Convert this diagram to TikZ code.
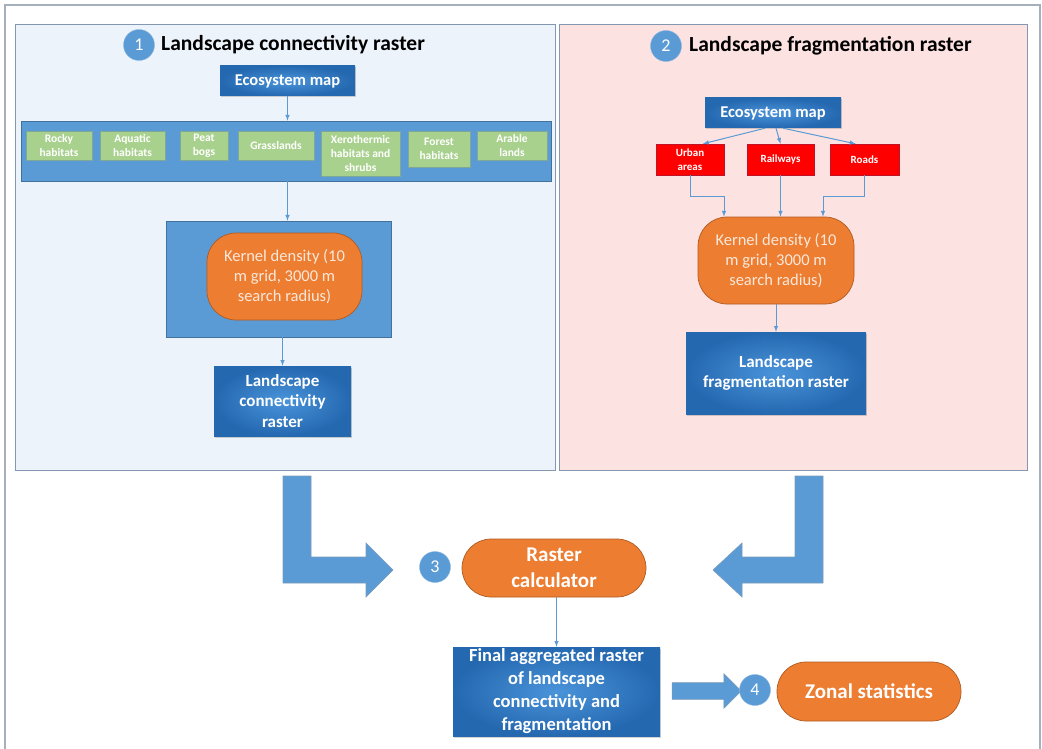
\documentclass[tikz,border=0pt]{standalone}
\usepackage{fontspec}
\setmainfont{Carlito}
\usetikzlibrary{shapes.arrows,shadows}
\definecolor{midblue}{RGB}{91,155,213}
\definecolor{edgeblue}{RGB}{65,113,156}
\definecolor{darkblue}{RGB}{36,104,176}
\definecolor{litblue}{RGB}{74,148,218}
\definecolor{paleblue}{RGB}{237,243,250}
\definecolor{palepink}{RGB}{253,226,226}
\definecolor{panelline}{RGB}{132,151,176}
\definecolor{frameline}{RGB}{165,176,188}
\definecolor{grass}{RGB}{169,209,142}
\definecolor{grassline}{RGB}{128,168,150}
\definecolor{roadred}{RGB}{255,0,0}
\definecolor{redline}{RGB}{190,20,40}
\definecolor{orng}{RGB}{237,125,49}
\definecolor{orngline}{RGB}{174,90,33}
\definecolor{cream}{RGB}{251,232,218}

\begin{document}
\begin{tikzpicture}[x=1pt, y=-1pt]
  \tikzset{panel/.style={draw=panelline, line width=1pt},
    band/.style={draw=edgeblue, fill=midblue, line width=0.6pt, inner sep=0},
    db/.style={inner color=litblue, outer color=darkblue, text=white, align=center, inner sep=0,
      drop shadow={opacity=0.35, shadow xshift=1.2pt, shadow yshift=-1.5pt},
      font=\fontsize{17}{20.5}\selectfont\bfseries},
    g/.style={draw=grassline, fill=grass, text=white, align=center, inner sep=0,
      anchor=north, minimum height=29pt, line width=0.6pt, font=\fontsize{11.5}{14}\selectfont\bfseries},
    r/.style={draw=redline, fill=roadred, text=white, align=center, inner sep=0, minimum height=31pt,
      line width=0.5pt, font=\fontsize{11}{14}\selectfont\bfseries},
    o/.style={draw=orngline, fill=orng, text=white, align=center, inner sep=0, rounded corners=29pt,
      line width=0.7pt, font=\fontsize{21}{26}\selectfont\bfseries},
    num/.style={circle, fill=midblue, draw=midblue!70!white, text=white, minimum size=31pt,
      inner sep=0, font=\fontsize{18}{18}\selectfont},
    ttl/.style={anchor=west, inner sep=0, font=\fontsize{21.5}{24}\selectfont\bfseries},
    f/.style={->, >=latex, draw=midblue, line width=1pt},
    blk/.style={fill=midblue, draw=edgeblue!70, line width=0.6pt}}

  \useasboundingbox (0,0) rectangle (1042,749);
  \draw[frameline, line width=1.5pt] (5,752) -- (5,5) -- (1040,5) -- (1040,752);

  % panels
  \draw[panel, fill=paleblue] (15,25) rectangle (555,470);
  \draw[panel, fill=palepink] (559,25) rectangle (1027,470);

  % 1 landscape connectivity
  \node[num] (n1) at (139,45) {1};
  \node[ttl] (t1) at (161,45) {Landscape connectivity raster};
  \node[db, minimum width=135pt, minimum height=30pt, font=\fontsize{16.5}{20}\selectfont\bfseries]
    (eco1) at (287.5,81) {Ecosystem map};
  \node[band, minimum width=530pt, minimum height=60pt] (band) at (286,151) {};
  \node[g, minimum width=66pt] (rocky) at (59,131) {Rocky\\habitats};
  \node[g, minimum width=65pt] (aquatic) at (132.5,131) {Aquatic\\habitats};
  \node[g, minimum width=48pt] (peat) at (204,131) {Peat\\bogs};
  \node[g, minimum width=76pt] (grass) at (276,131) {Grasslands};
  \node[g, minimum width=79pt, minimum height=45pt] (xero) at (360.5,131) {Xerothermic\\habitats and\\shrubs};
  \node[g, minimum width=62pt, minimum height=36pt] (forest) at (439,131) {Forest\\habitats};
  \node[g, minimum width=70pt] (arable) at (512,131) {Arable\\lands};
  \node[band, minimum width=225pt, minimum height=116pt] (box1) at (278.5,279) {};
  \node[o, minimum width=155pt, minimum height=87pt, text=cream, font=\fontsize{16.5}{20}\selectfont]
    (kern1) at (284.5,276.5) {Kernel density (10\\m grid, 3000 m\\search radius)};
  \node[db, minimum width=137pt, minimum height=70pt] (lcr) at (282.5,401) {Landscape\\connectivity\\raster};

  \draw[f] (eco1.south) -- (eco1.south |- band.north);
  \draw[f] (band.south -| eco1.south) -- (box1.north -| eco1.south);
  \draw[f] (lcr.north |- box1.south) -- (lcr.north);

  % 2 landscape fragmentation
  \node[num] (n2) at (666,46) {2};
  \node[ttl] (t2) at (689,46) {Landscape fragmentation raster};
  \node[db, minimum width=136pt, minimum height=30pt, font=\fontsize{16.5}{20}\selectfont\bfseries]
    (eco2) at (773,113) {Ecosystem map};
  \node[r, minimum width=68pt] (urban) at (690,159.5) {Urban\\areas};
  \node[r, minimum width=67pt] (rail) at (780.5,159.5) {Railways};
  \node[r, minimum width=69pt] (roads) at (864.5,159.5) {Roads};
  \node[o, minimum width=156pt, minimum height=87pt, text=cream, font=\fontsize{16.5}{20}\selectfont]
    (kern2) at (776,260.5) {Kernel density (10\\m grid, 3000 m\\search radius)};
  \node[db, minimum width=180pt, minimum height=82pt] (lfr) at (776,373) {Landscape\\fragmentation raster};

  \draw[f] ([xshift=-8pt]eco2.south) -- ([xshift=13pt]urban.north);
  \draw[f] ([xshift=3pt]eco2.south) -- (rail.north);
  \draw[f] ([xshift=10pt]eco2.south) -- ([xshift=-9pt]roads.north);
  \draw[f] (urban.south) -- ++(0,21) -| ([xshift=-52pt]kern2.north);
  \draw[f] (rail.south) -- (rail.south |- kern2.north);
  \draw[f] (roads.south) -- ++(0,21) -| ([xshift=47pt]kern2.north);
  \draw[f] (kern2.south) -- (lfr.north);

  % 3 raster calculator
  \draw[blk] (283,476) -- (311,476) -- (311,557) -- (366,557) -- (366,543) -- (393,570)
    -- (366,597) -- (366,583) -- (283,583) -- cycle;
  \draw[blk] (795,476) -- (823,476) -- (823,583) -- (742,583) -- (742,597) -- (713,570)
    -- (742,543) -- (742,557) -- (795,557) -- cycle;
  \node[num] (n3) at (435,567) {3};
  \node[o, minimum width=184pt, minimum height=58pt] (calc) at (554,568) {Raster\\calculator};
  \node[db, minimum width=207pt, minimum height=89pt, font=\fontsize{18.5}{23}\selectfont\bfseries]
    (final) at (556.5,691.5) {Final aggregated raster\\of landscape\\connectivity and\\fragmentation};
  \draw[f] (final.north |- calc.south) -- (final.north);

  % 4 zonal statistics
  \node[single arrow, fill=midblue, draw=edgeblue!70, line width=0.6pt, minimum height=69pt,
    minimum width=34pt, single arrow head extend=9pt, inner xsep=0, inner ysep=8pt] (toz) at (702.5,691) {};
  \node[num] (n4) at (755,690) {4};
  \node[o, minimum width=184pt, minimum height=59pt] (zonal) at (869,691.5) {Zonal statistics};
\end{tikzpicture}
\end{document}
